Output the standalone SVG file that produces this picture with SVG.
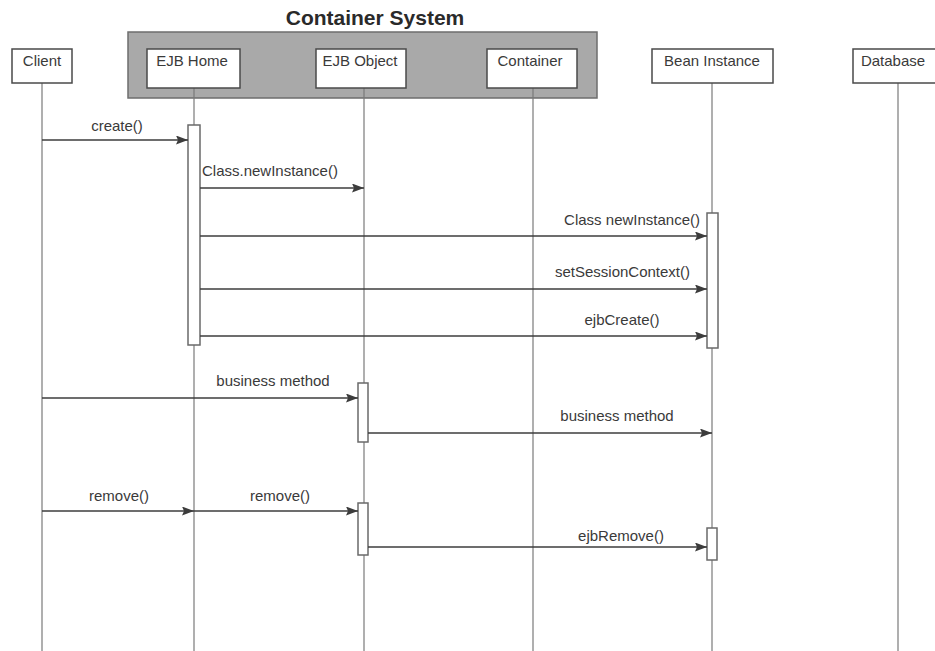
<svg xmlns="http://www.w3.org/2000/svg" width="935" height="651" viewBox="0 0 935 651">
  <style>
    .bg { fill: #ffffff; }
    .frame { fill: #a9a9a9; stroke: #6e6e6e; stroke-width: 1.5; }
    .title { font-family: "Liberation Sans", Arial, sans-serif; font-size: 21px; font-weight: bold; fill: #2a2a2a; text-anchor: middle; }
    .box { fill: #ffffff; stroke: #4a4a4a; stroke-width: 1.5; }
    .name { font-family: "Liberation Sans", Arial, sans-serif; font-size: 15px; fill: #3a3a3a; text-anchor: middle; }
    .life { stroke: #7a7a7a; stroke-width: 1.2; fill: none; }
    .act { fill: #ffffff; stroke: #6a6a6a; stroke-width: 1.5; }
    .msg { stroke: #3c3c3c; stroke-width: 1.5; fill: none; marker-end: url(#head); }
    .lbl { font-family: "Liberation Sans", Arial, sans-serif; font-size: 15px; fill: #3a3a3a; }
  </style>
  <defs>
    <marker id="head" viewBox="0 0 12 9" refX="12" refY="4.5" markerWidth="12" markerHeight="9" markerUnits="userSpaceOnUse" orient="auto">
      <path d="M0,0 L12,4.5 L0,9 L2,4.5 Z" fill="#3c3c3c"/>
    </marker>
  </defs>

  <rect class="bg" x="0" y="0" width="935" height="651"/>

  <!-- container system frame -->
  <g id="container-system">
    <rect class="frame" x="128" y="32" width="469" height="66"/>
    <text class="title" x="375" y="25">Container System</text>
  </g>

  <!-- lifelines -->
  <g id="lifelines">
    <line class="life" x1="42" y1="83" x2="42" y2="651"/>
    <line class="life" x1="194" y1="88" x2="194" y2="651"/>
    <line class="life" x1="364" y1="88" x2="364" y2="651"/>
    <line class="life" x1="533" y1="88" x2="533" y2="651"/>
    <line class="life" x1="712" y1="83" x2="712" y2="651"/>
    <line class="life" x1="898" y1="83" x2="898" y2="651"/>
  </g>

  <!-- participants -->
  <g id="client">
    <rect class="box" x="12" y="49" width="60" height="34"/>
    <text class="name" x="42" y="66">Client</text>
  </g>
  <g id="ejb-home">
    <rect class="box" x="147" y="49" width="93" height="39"/>
    <text class="name" x="192" y="66">EJB Home</text>
  </g>
  <g id="ejb-object">
    <rect class="box" x="316" y="49" width="90" height="39"/>
    <text class="name" x="360" y="66">EJB Object</text>
  </g>
  <g id="container">
    <rect class="box" x="487" y="49" width="90" height="39"/>
    <text class="name" x="530" y="66">Container</text>
  </g>
  <g id="bean-instance">
    <rect class="box" x="652" y="49" width="121" height="34"/>
    <text class="name" x="712" y="66">Bean Instance</text>
  </g>
  <g id="database">
    <rect class="box" x="853" y="49" width="90" height="34"/>
    <text class="name" x="893" y="66">Database</text>
  </g>

  <!-- activation bars -->
  <g id="activations">
    <rect class="act" x="188" y="125" width="12" height="220"/>
    <rect class="act" x="707" y="213" width="11" height="135"/>
    <rect class="act" x="358" y="383" width="10" height="59"/>
    <rect class="act" x="358" y="503" width="10" height="52"/>
    <rect class="act" x="707" y="528" width="10" height="32"/>
  </g>

  <!-- messages -->
  <g id="connectors">
    <line class="msg" x1="42" y1="140" x2="188" y2="140"/>
    <line class="msg" x1="200" y1="188" x2="364" y2="188"/>
    <line class="msg" x1="200" y1="236" x2="707" y2="236"/>
    <line class="msg" x1="200" y1="289" x2="707" y2="289"/>
    <line class="msg" x1="200" y1="336" x2="707" y2="336"/>
    <line class="msg" x1="42" y1="398" x2="358" y2="398"/>
    <line class="msg" x1="368" y1="433" x2="712" y2="433"/>
    <line class="msg" x1="42" y1="511" x2="194" y2="511"/>
    <line class="msg" x1="194" y1="511" x2="358" y2="511"/>
    <line class="msg" x1="368" y1="547" x2="707" y2="547"/>
  </g>

  <!-- message labels -->
  <g id="labels">
    <text class="lbl" x="117" y="131" text-anchor="middle">create()</text>
    <text class="lbl" x="202" y="176">Class.newInstance()</text>
    <text class="lbl" x="700" y="225" text-anchor="end">Class newInstance()</text>
    <text class="lbl" x="690" y="277" text-anchor="end">setSessionContext()</text>
    <text class="lbl" x="622" y="325" text-anchor="middle">ejbCreate()</text>
    <text class="lbl" x="273" y="386" text-anchor="middle">business method</text>
    <text class="lbl" x="617" y="421" text-anchor="middle">business method</text>
    <text class="lbl" x="119" y="501" text-anchor="middle">remove()</text>
    <text class="lbl" x="280" y="501" text-anchor="middle">remove()</text>
    <text class="lbl" x="621" y="541" text-anchor="middle">ejbRemove()</text>
  </g>
</svg>
